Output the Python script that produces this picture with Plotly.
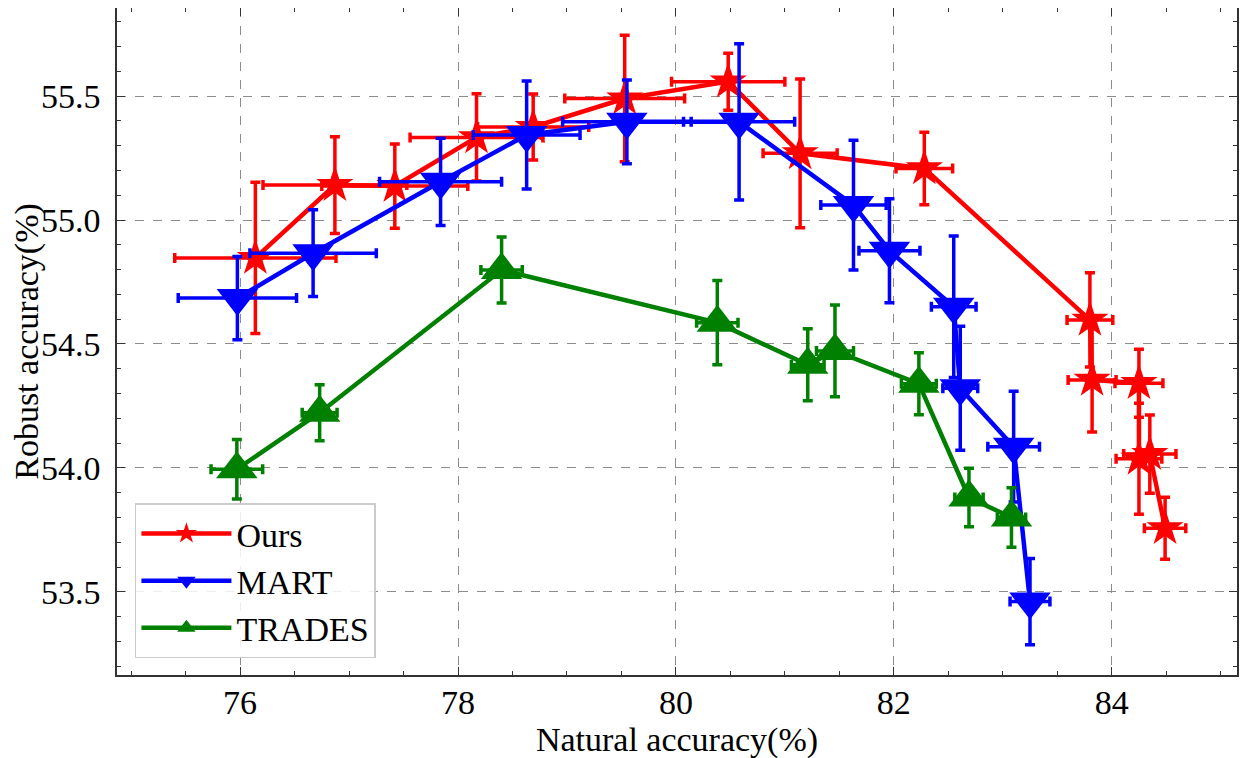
import plotly.graph_objects as go

# Ours (red stars)
ours_x = [76.14, 76.87, 77.42, 78.17, 78.69, 79.53, 80.48, 81.14, 82.28, 83.80, 83.82, 84.25, 84.25, 84.35, 84.49]
ours_y = [54.847, 55.141, 55.137, 55.333, 55.375, 55.49, 55.558, 55.269, 55.208, 54.597, 54.355, 54.342, 54.037, 54.056, 53.757]
ours_xerr = [0.74, 0.66, 0.67, 0.61, 0.51, 0.55, 0.52, 0.34, 0.26, 0.21, 0.22, 0.22, 0.21, 0.24, 0.19]
ours_yerr = [0.305, 0.195, 0.17, 0.176, 0.133, 0.255, 0.115, 0.30, 0.146, 0.19, 0.21, 0.137, 0.224, 0.158, 0.125]

# MART (blue down triangles)
mart_x = [75.975, 76.67, 77.84, 78.63, 79.55, 80.58, 81.63, 81.96, 82.55, 82.61, 83.10, 83.25]
mart_y = [54.685, 54.866, 55.154, 55.343, 55.396, 55.396, 55.06, 54.876, 54.650, 54.321, 54.086, 53.461]
mart_xerr = [0.543, 0.58, 0.56, 0.49, 0.59, 0.51, 0.30, 0.28, 0.205, 0.16, 0.237, 0.183]
mart_yerr = [0.168, 0.175, 0.176, 0.218, 0.169, 0.315, 0.262, 0.21, 0.285, 0.25, 0.223, 0.174]

# TRADES (green up triangles)
trades_x = [75.97, 76.73, 78.40, 80.38, 81.21, 81.46, 82.23, 82.69, 83.08]
trades_y = [53.995, 54.223, 54.798, 54.586, 54.416, 54.472, 54.34, 53.881, 53.80]
trades_xerr = [0.237, 0.16, 0.19, 0.19, 0.15, 0.17, 0.16, 0.13, 0.13]
trades_yerr = [0.12, 0.113, 0.133, 0.17, 0.145, 0.185, 0.125, 0.118, 0.12]

FONT = 'Liberation Serif'

series = [
    ('Ours', ours_x, ours_y, ours_xerr, ours_yerr, '#ff0000', 'star', 28),
    ('MART', mart_x, mart_y, mart_xerr, mart_yerr, '#0000ff', 'triangle-down', 36),
    ('TRADES', trades_x, trades_y, trades_xerr, trades_yerr, '#008000', 'triangle-up', 36),
]

fig = go.Figure()

for name, x, y, xe, ye, color, symbol, size in series:
    fig.add_trace(go.Scatter(
        x=x,
        y=y,
        mode='lines+markers',
        name=name,
        line=dict(color=color, width=4.5),
        marker=dict(symbol=symbol, size=size, color=color, line=dict(width=0)),
        error_x=dict(type='data', array=xe, visible=True, color=color, thickness=3.5, width=5),
        error_y=dict(type='data', array=ye, visible=True, color=color, thickness=3.5, width=5),
    ))

axis_common = dict(
    ticks='inside',
    ticklen=8,
    tickwidth=1.2,
    tickcolor='#333333',
    showline=True,
    linecolor='#333333',
    linewidth=1.5,
    mirror='ticks',
    showgrid=True,
    gridcolor='#8c8c8c',
    griddash='dash',
    gridwidth=1,
    zeroline=False,
    automargin=False,
    tickfont=dict(family=FONT, size=34, color='black'),
)

# the page body adds an 8px offset, margins below account for it
fig.update_layout(
    width=1257,
    height=758,
    margin=dict(l=109, r=28, t=0, b=91),
    plot_bgcolor='white',
    paper_bgcolor='white',
    font=dict(family=FONT, size=34, color='black'),
    xaxis=dict(
        range=[74.87, 85.15],
        tick0=76,
        dtick=2,
        minor=dict(dtick=0.5, ticks='inside', ticklen=4, tickcolor='#333333', showgrid=False),
        title=dict(text='Natural accuracy(%)', font=dict(family=FONT, size=34), standoff=0),
        ticklabelstandoff=-4,
        **axis_common
    ),
    yaxis=dict(
        range=[53.165, 55.855],
        tick0=53.5,
        dtick=0.5,
        tickformat='.1f',
        minor=dict(dtick=0.1, ticks='inside', ticklen=4, tickcolor='#333333', showgrid=False),
        title=dict(text='Robust accuracy(%)', font=dict(family=FONT, size=34), standoff=4),
        ticklabelstandoff=8,
        **axis_common
    ),
    legend=dict(
        x=0.016,
        y=0.025,
        xanchor='left',
        yanchor='bottom',
        bgcolor='rgba(255,255,255,0.85)',
        bordercolor='#cccccc',
        borderwidth=1.5,
        font=dict(family=FONT, size=34),
        itemwidth=90,
        tracegroupgap=0,
    ),
    showlegend=True,
)

fig.write_html('out.html')
